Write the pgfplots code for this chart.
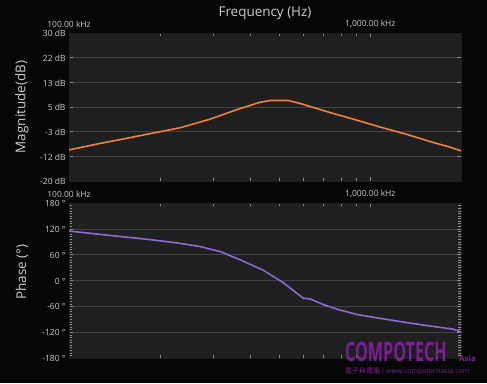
\documentclass[border=0pt]{standalone}
\usepackage{pgfplots}
\pgfplotsset{compat=1.18}
\usepackage{fontspec}
\setmainfont{Open Sans}
\newfontfamily\cjk{Noto Sans CJK TC}
\definecolor{bg}{RGB}{6,6,6}
\definecolor{plotbg}{RGB}{31,31,31}
\definecolor{gridc}{RGB}{66,66,66}
\definecolor{txt}{RGB}{205,205,205}
\definecolor{tickc}{RGB}{140,140,140}
\definecolor{magc}{RGB}{240,130,60}
\definecolor{phc}{RGB}{140,105,210}
\definecolor{wm}{RGB}{122,30,150}
\pgfplotsset{myax/.style={
  scale only axis, width=392bp, xmin=100, xmax=2000,
  axis background/.style={fill=plotbg},
  axis line style={draw=plotbg},
  ymajorgrids, grid style={gridc, line width=0.5pt},
  xtick={100,1000}, xticklabels={100.00 kHz,{1,000.00 kHz}},
  minor xtick={},
  xticklabel pos=right,
  tick style={tickc, line width=0.4pt},
  major tick length=4bp, minor tick length=3bp,
  minor y tick num=9,
  tick label style={font=\fontsize{8.5}{9}\selectfont, text=txt},
  x tick label style={yshift=1.5bp},
  y tick label style={yshift=-0.5bp},
}}
\begin{document}
\begin{tikzpicture}[x=1bp,y=1bp]
\fill[bg] (0,0) rectangle (487,383);
\useasboundingbox (0,0) rectangle (487,383);
\node[text=txt, font=\fontsize{13.5}{15}\selectfont] at (265,370) {Frequency (Hz)};
\node[text=txt, font=\fontsize{13.5}{15}\selectfont, rotate=90] at (22,276) {Magnitude(dB)};
\node[text=txt, font=\fontsize{13.5}{15}\selectfont, rotate=90] at (22,111) {Phase (°)};
\begin{semilogxaxis}[myax, at={(69bp,202bp)}, anchor=south west, height=148bp,
  ymin=-20, ymax=30,
  ytick={30,21.6667,13.3333,5,-3.3333,-11.6667,-20},
  yticklabels={30 dB,22 dB,13 dB,5 dB,-3 dB,-12 dB,-20 dB}]
\addplot[magc, line width=1.6pt] coordinates {
(100,-9.5) (127,-7.3) (148,-6.0) (186,-4.0) (234,-2.0) (294,0.9) (370,4.5)
(431,6.6) (465,7.2) (534,7.2) (585,6.2) (736,3.1) (878,0.9) (1080,-1.8)
(1327,-4.3) (1618,-7.0) (1845,-8.6) (2000,-9.8)};
\end{semilogxaxis}
\begin{semilogxaxis}[myax, at={(69bp,25bp)}, anchor=south west, height=155bp,
  ymin=-180, ymax=180,
  ytick={180,120,60,0,-60,-120,-180},
  yticklabels={180 °,120 °,60 °,0 °,-60 °,-120 °,-180 °}]
\addplot[phc, line width=1.6pt] coordinates {
(100,115) (127,107) (186,95) (230,87) (272,79) (318,67) (370,48) (441,24) (514,-5)
(599,-41) (632,-43) (700,-56) (777,-67) (905,-79) (1080,-88) (1327,-98) (1708,-109)
(1887,-113) (2000,-120)};
\end{semilogxaxis}
\node[anchor=south west, inner sep=0, text=wm, font=\bfseries\fontsize{27}{27}\selectfont, xscale=0.6] at (345,21) {COMPOTECH};
\node[anchor=south west, inner sep=0, text=wm, font=\bfseries\fontsize{8}{8}\selectfont] at (459,21) {Asia};
\node[anchor=west, inner sep=0, text=wm, font=\fontsize{7}{7}\selectfont] at (345,12) {{\cjk 電子與電腦}\,|\,www.compotechasia.com};
\end{tikzpicture}
\end{document}
